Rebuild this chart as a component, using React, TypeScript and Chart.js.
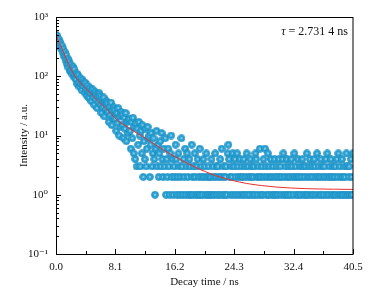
import { useEffect, useRef } from "react";
import { Chart, registerables } from "chart.js";

Chart.register(...registerables);

// Measured photon counts, one per channel (channel width in ns below)
const TIME_STEP_NS = 0.1;
const COUNTS = [
  505, 441, 476, 385, 421, 330, 372, 290, 331, 252,
  292, 215, 258, 186, 228, 160, 199, 140, 178, 122,
  158, 125, 108, 146, 98, 131, 104, 88, 112, 74,
  104, 80, 66, 94, 74, 58, 88, 70, 79, 53,
  78, 60, 47, 70, 55, 43, 64, 53, 38, 59,
  60, 44, 33, 55, 41, 50, 29, 46, 37, 52,
  46, 33, 24, 42, 30, 44, 21, 36, 28, 38,
  35, 25, 17, 31, 22, 36, 15, 27, 20, 30,
  27, 19, 12, 24, 16, 29, 10, 21, 14, 25,
  22, 15, 9, 20, 13, 24, 8, 17, 11, 18,
  19, 12, 6, 17, 9, 20, 5, 14, 4, 16,
  3, 13, 7, 17, 10, 3, 12, 5, 15, 2,
  8, 4, 13, 3, 6, 14, 9, 10, 2, 7,
  11, 3, 5, 9, 4, 1, 6, 12, 3, 7,
  2, 5, 8, 3, 11, 4, 2, 6, 3, 9,
  1, 4, 2, 6, 3, 1, 5, 10, 2, 4,
  1, 3, 2, 7, 4, 1, 2, 5, 3, 1,
  2, 9, 3, 1, 4, 2, 6, 1, 3, 5,
  2, 1, 4, 3, 1, 7, 2, 1, 3, 5,
  2, 1, 3, 4, 1, 2, 6, 1, 3, 2,
  1, 4, 2, 3, 1, 5, 2, 1, 3, 2,
  1, 2, 4, 1, 3, 2, 1, 5, 2, 3,
  1, 3, 2, 1, 4, 2, 6, 1, 3, 2,
  1, 2, 3, 1, 5, 7, 4, 2, 1, 3,
  2, 5, 1, 3, 4, 2, 1, 5, 3, 2,
  1, 4, 2, 3, 1, 2, 4, 1, 3, 2,
  5, 1, 3, 2, 1, 4, 2, 3, 1, 2,
  3, 1, 5, 4, 2, 1, 3, 2, 6, 1,
  2, 3, 1, 4, 2, 6, 3, 1, 2, 5,
  1, 3, 2, 4, 1, 2, 3, 1, 4, 2,
  1, 3, 2, 1, 4, 2, 3, 1, 2, 4,
  5, 1, 2, 3, 1, 4, 2, 1, 3, 2,
  1, 4, 3, 2, 1, 5, 2, 3, 1, 2,
  4, 1, 2, 3, 1, 2, 4, 3, 1, 2,
  3, 1, 5, 2, 1, 3, 4, 2, 1, 3,
  2, 1, 4, 3, 2, 1, 5, 2, 3, 1,
  2, 4, 1, 3, 2, 1, 3, 2, 4, 1,
  5, 2, 1, 3, 2, 4, 1, 2, 3, 1,
  2, 3, 1, 4, 2, 5, 1, 3, 2, 1,
  4, 2, 1, 3, 2, 1, 5, 3, 1, 2,
  3, 1, 4, 2, 1, 5,
];

// Fitted decay curve
const FIT_TIME = [0, 0.5, 1, 1.5, 2, 2.6, 3.2, 4, 5, 6, 6.7, 7.4, 8.5, 9.5, 10.5, 11.9, 13, 14.2, 15.3, 16.5, 18, 19.6, 21, 22.5, 24, 26, 28, 30, 32, 34, 36, 38, 40.5];
const FIT_VALUE = [500, 360, 260, 185, 135, 100, 80, 63, 47, 35, 29.5, 24, 17.5, 14.5, 12, 9.5, 7.7, 6.2, 5.1, 4.2, 3.35, 2.69, 2.28, 1.97, 1.75, 1.55, 1.43, 1.35, 1.3, 1.27, 1.25, 1.24, 1.23];

const X_TICKS = [0, 8.1, 16.2, 24.3, 32.4, 40.5];
const Y_TICKS = [0.1, 1, 10, 100, 1000];
const Y_TICK_LABELS = ["10\u207B\u00B9", "10\u2070", "10\u00B9", "10\u00B2", "10\u00B3"];
const X_TITLE = "Decay time / ns";
const Y_TITLE = "Intensity / a.u.";
const TAU_SYMBOL = "\u03C4";
const TAU_TEXT = " = 2.731 4 ns";

const FONT = "'Liberation Serif', 'Times New Roman', 'DejaVu Serif', serif";

function makeBall(): HTMLCanvasElement {
  const c = document.createElement("canvas");
  c.width = 8;
  c.height = 8;
  const g = c.getContext("2d")!;
  g.beginPath();
  g.arc(4, 4, 3.5, 0, Math.PI * 2);
  g.fillStyle = "#2ba3d3";
  g.fill();
  g.lineWidth = 0.7;
  g.strokeStyle = "#1887bd";
  g.stroke();
  g.beginPath();
  g.arc(4, 4, 0.9, 0, Math.PI * 2);
  g.fillStyle = "rgba(215,238,248,0.75)";
  g.fill();
  return c;
}

const framePlugin = {
  id: "frameTicks",
  afterDatasetsDraw(chart: any) {
    const { ctx, chartArea: a, scales } = chart;
    const xs = scales.x;
    const ys = scales.y;
    ctx.save();
    ctx.strokeStyle = "#000";
    ctx.lineWidth = 1;
    ctx.beginPath();
    // x ticks (inward)
    X_TICKS.forEach((v, i) => {
      const px = Math.round(xs.getPixelForValue(v)) + 0.5;
      ctx.moveTo(px, a.bottom);
      ctx.lineTo(px, a.bottom - 5);
      if (i < X_TICKS.length - 1) {
        const mx = Math.round(xs.getPixelForValue((v + X_TICKS[i + 1]) / 2)) + 0.5;
        ctx.moveTo(mx, a.bottom);
        ctx.lineTo(mx, a.bottom - 3);
      }
    });
    // y ticks (inward), log minors
    Y_TICKS.forEach((v, i) => {
      const py = Math.round(ys.getPixelForValue(v)) + 0.5;
      ctx.moveTo(a.left, py);
      ctx.lineTo(a.left + 5, py);
      if (i < Y_TICKS.length - 1) {
        for (let k = 2; k <= 9; k++) {
          const my = Math.round(ys.getPixelForValue(v * k)) + 0.5;
          ctx.moveTo(a.left, my);
          ctx.lineTo(a.left + 3, my);
        }
      }
    });
    ctx.stroke();
    // frame
    ctx.strokeRect(Math.round(a.left) + 0.5, Math.round(a.top) + 0.5, Math.round(a.right - a.left) - 0.5, Math.round(a.bottom - a.top));
    // lifetime annotation
    ctx.fillStyle = "#111";
    ctx.textBaseline = "middle";
    ctx.font = `12px ${FONT}`;
    const w2 = ctx.measureText(TAU_TEXT).width;
    ctx.font = `italic 12px ${FONT}`;
    const w1 = ctx.measureText(TAU_SYMBOL).width;
    const xr = a.right - 5;
    const y = a.top + 15;
    ctx.textAlign = "left";
    ctx.fillText(TAU_SYMBOL, xr - w2 - w1, y);
    ctx.font = `12px ${FONT}`;
    ctx.fillText(TAU_TEXT, xr - w2, y);
    ctx.restore();
  },
};

export default function App() {
  const ref = useRef<HTMLCanvasElement | null>(null);

  useEffect(() => {
    if (!ref.current) return;
    const ball = makeBall();
    const points = COUNTS.map((c, i) => ({ x: i * TIME_STEP_NS, y: c }));
    const fit = FIT_TIME.map((t, i) => ({ x: t, y: FIT_VALUE[i] }));

    const chart = new Chart(ref.current, {
      type: "scatter",
      data: {
        datasets: [
          {
            label: "Fit",
            data: fit,
            showLine: true,
            borderColor: "#e8302c",
            borderWidth: 1,
            pointRadius: 0,
            cubicInterpolationMode: "monotone",
            order: 0,
          } as any,
          {
            label: "Data",
            data: points,
            pointStyle: ball as any,
            pointRadius: 4,
            order: 1,
          } as any,
        ],
      },
      options: {
        animation: false,
        responsive: false,
        devicePixelRatio: 1,
        events: [],
        layout: { padding: { top: 17, right: 32, bottom: 0, left: 0 } },
        plugins: { legend: { display: false }, tooltip: { enabled: false } },
        scales: {
          x: {
            type: "linear",
            min: 0,
            max: 40.5,
            grid: { display: false, drawTicks: false },
            border: { display: false },
            afterBuildTicks: (s: any) => {
              s.ticks = X_TICKS.map((v) => ({ value: v }));
            },
            afterFit: (s: any) => {
              s.height = 46;
            },
            ticks: {
              autoSkip: false,
              maxRotation: 0,
              padding: 7,
              color: "#111",
              font: { family: FONT, size: 11 },
              callback: (v: any) => Number(v).toFixed(1),
            },
            title: {
              display: true,
              text: X_TITLE,
              color: "#111",
              font: { family: FONT, size: 11 },
              padding: { top: 0, bottom: 11 },
            },
          },
          y: {
            type: "logarithmic",
            min: 0.1,
            max: 1000,
            grid: { display: false, drawTicks: false },
            border: { display: false },
            afterBuildTicks: (s: any) => {
              s.ticks = Y_TICKS.map((v) => ({ value: v }));
            },
            afterFit: (s: any) => {
              s.width = 56;
            },
            ticks: {
              autoSkip: false,
              padding: 8,
              color: "#111",
              font: { family: FONT, size: 11 },
              callback: (v: any) => {
                const idx = Y_TICKS.findIndex((t) => Math.abs(t - Number(v)) / t < 1e-6);
                return idx >= 0 ? Y_TICK_LABELS[idx] : "";
              },
            },
            title: {
              display: true,
              text: Y_TITLE,
              color: "#111",
              font: { family: FONT, size: 11 },
              padding: { top: 18, bottom: 0 },
            },
          },
        },
      },
      plugins: [framePlugin],
    });
    return () => chart.destroy();
  }, []);

  return (
    <div style={{ position: "fixed", left: 0, top: 0, width: 385, height: 300, background: "#fff" }}>
      <canvas ref={ref} width={385} height={300} style={{ display: "block" }} />
    </div>
  );
}
